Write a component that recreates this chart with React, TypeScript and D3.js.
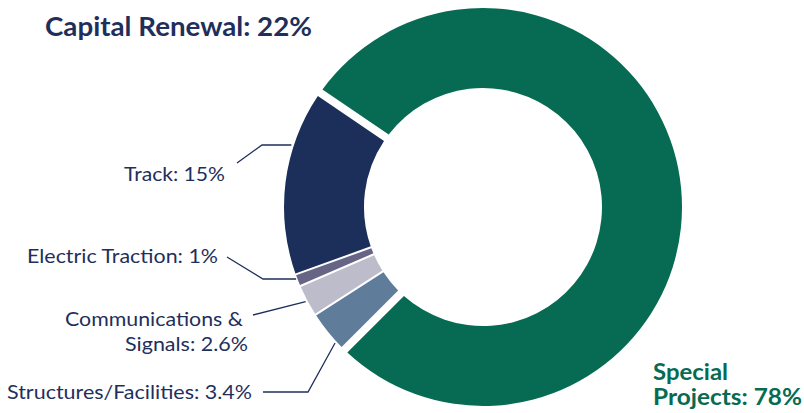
import React from "react";
import * as d3 from "d3";

// ---- data ----
const categories = [
  "Structures/Facilities",
  "Communications & Signals",
  "Electric Traction",
  "Track",
  "Special Projects",
];
const values = [3.4, 2.6, 1, 15, 78];
const groupLabels = ["Capital Renewal: 22%", "Special", "Projects: 78%"];
const sliceLabels = [
  ["Structures/Facilities: 3.4%"],
  ["Communications &", "Signals: 2.6%"],
  ["Electric Traction: 1%"],
  ["Track: 15%"],
  [],
];

// ---- style / layout ----
const W = 804;
const H = 413;
const cx = 483;
const cy = 207;
const outerR = 199;
const innerR = 119;
const colors = ["#5f7d9b", "#bdbccb", "#676585", "#1c2e5a", "#066b52"];
const navy = "#1f2f5c";
const green = "#066b52";
const deg = Math.PI / 180;
const startDeg = 225;

// leader layout per slice: label anchor [x, y, width], elbow points, ring angle touched
const leaderLayout: Record<number, { text: [number, number, number][]; line: [number, number][]; touchDeg: number | null }> = {
  0: { text: [[252, 399, 245]], line: [[263, 392], [308, 392]], touchDeg: 227.4 },
  1: { text: [[243, 326, 178], [248, 351, 123]], line: [[253, 315]], touchDeg: null },
  2: { text: [[218, 263, 191]], line: [[227, 257], [263, 279]], touchDeg: null },
  3: { text: [[225, 181, 101]], line: [[237, 163], [262, 145]], touchDeg: 287.6 },
};

export default function App() {
  const pie = d3
    .pie<number>()
    .sort(null)
    .value((d) => d)
    .startAngle(startDeg * deg)
    .endAngle(startDeg * deg + 2 * Math.PI);
  const arcsData = pie(values);

  const arc = d3
    .arc<d3.PieArcDatum<number>>()
    .innerRadius(innerR)
    .outerRadius(outerR)
    .padRadius(200)
    .padAngle((d) => (d.index === 4 ? 14 / 200 : 2 / 200));

  const line = d3.line();

  const ringPoint = (a: number, r: number): [number, number] => [
    cx + r * Math.sin(a),
    cy - r * Math.cos(a),
  ];

  return (
    <svg
      width={W}
      height={H}
      style={{ position: "absolute", left: 0, top: 0, background: "#fff" }}
      fontFamily="Lato, 'Noto Sans', sans-serif"
    >
      <g transform={`translate(${cx},${cy})`}>
        {arcsData.map((d, i) => (
          <path key={categories[i]} d={arc(d) || ""} fill={colors[i]} />
        ))}
      </g>

      {arcsData.slice(0, 4).map((d, i) => {
        const lay = leaderLayout[i];
        const a =
          lay.touchDeg !== null ? lay.touchDeg * deg : (d.startAngle + d.endAngle) / 2;
        const end = ringPoint(a, outerR + 2);
        let pts: [number, number][];
        if (i <= 1) pts = [...lay.line, end];
        else pts = [...lay.line, [end[0], lay.line[lay.line.length - 1][1]]];
        return (
          <g key={"lab" + i}>
            <path d={line(pts) || ""} fill="none" stroke={navy} strokeWidth={1.3} />
            {sliceLabels[i].map((t, j) => (
              <text
                key={j}
                x={lay.text[j][0] - lay.text[j][2]}
                y={lay.text[j][1]}
                fontSize={20}
                fill={navy}
                textLength={lay.text[j][2]}
                lengthAdjust="spacingAndGlyphs"
              >
                {t}
              </text>
            ))}
          </g>
        );
      })}

      <text x={45} y={36} fontSize={26} fontWeight={700} fill={navy} textLength={267} lengthAdjust="spacingAndGlyphs">
        {groupLabels[0]}
      </text>
      <text x={653} y={380} fontSize={22} fontWeight={700} fill={green} textLength={75} lengthAdjust="spacingAndGlyphs">
        {groupLabels[1]}
      </text>
      <text x={653} y={405} fontSize={22} fontWeight={700} fill={green} textLength={149} lengthAdjust="spacingAndGlyphs">
        {groupLabels[2]}
      </text>
    </svg>
  );
}
